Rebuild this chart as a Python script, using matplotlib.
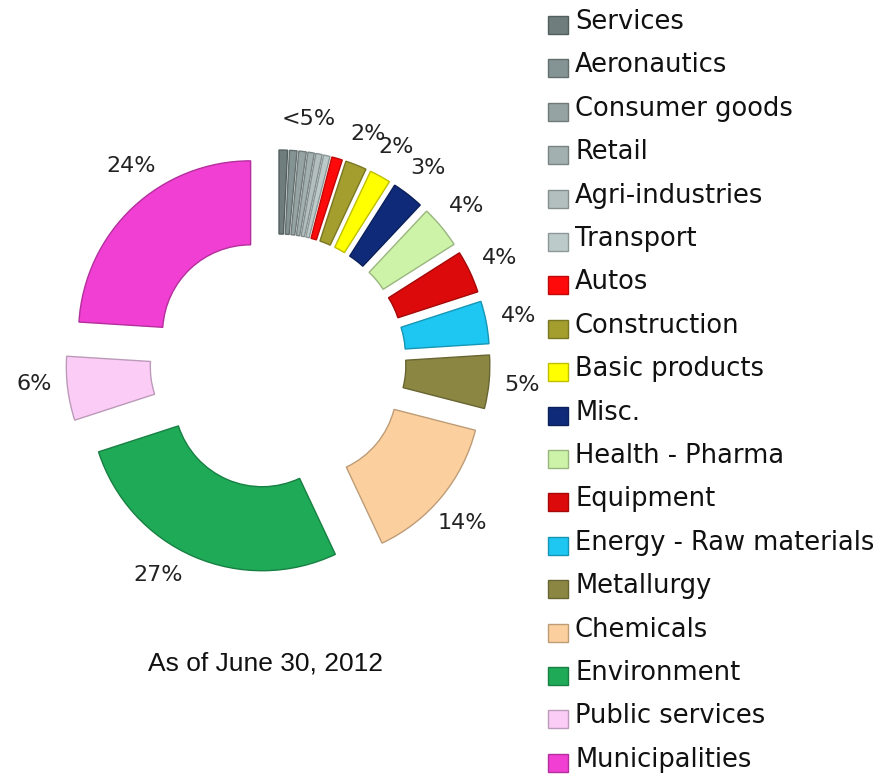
import matplotlib.pyplot as plt
import matplotlib.colors as mcolors
import numpy as np

# Portfolio split by sector (percent of total)
sectors = ["Services", "Aeronautics", "Consumer goods", "Retail", "Agri-industries",
           "Transport", "Autos", "Construction", "Basic products", "Misc.",
           "Health - Pharma", "Equipment", "Energy - Raw materials", "Metallurgy",
           "Chemicals", "Environment", "Public services", "Municipalities"]
shares = [0.8, 0.7, 0.7, 0.6, 0.6, 0.6, 1, 2, 2, 3, 4, 4, 4, 5, 14, 27, 6, 24]
pct_labels = ["", "", "", "", "", "", "", "2%", "2%", "3%", "4%", "4%", "4%", "5%",
              "14%", "27%", "6%", "24%"]
small_group = 6          # first six sectors share one label
small_label = "<5%"
colors = ["#6f7d7d", "#849393", "#95a3a3", "#a3b0b0", "#b3bfbf", "#bccaca",
          "#ff0a0a", "#a39e2e", "#ffff00", "#0f2a78", "#cdf3a9", "#dc0a0a",
          "#1ec6f2", "#8b8743", "#fcd09e", "#1faa58", "#fbcdf6", "#f03fd2"]
note = "As of June 30, 2012"

# small angular nudges (degrees) for a few of the percentage labels
nudge = {14: -1.5, 15: -6, 16: -2, 17: -6.5}

W, H = 877, 774
fig = plt.figure(figsize=(W / 100, H / 100), dpi=100)
ax = fig.add_axes([0, 0, 1, 1])

cx, cy = 278, H - 362
r_out, width, shift = 172, 84, 40

edge = [tuple(c * 0.75 for c in mcolors.to_rgb(col)) for col in colors]
# pie's explode offset is in data units here (radius is in pixels)
wedges, _ = ax.pie(shares, colors=colors, startangle=90, counterclock=False,
                   radius=r_out, center=(cx, cy),
                   explode=[shift] * len(shares),
                   wedgeprops=dict(width=width, linewidth=1.0))
for w, e in zip(wedges, edge):
    w.set_edgecolor(e)

# percentage labels along each slice's middle angle
total = sum(shares)
bounds = np.concatenate([[0], np.cumsum(shares)]) / total
lab_r = 245
for i, txt in enumerate(pct_labels):
    if not txt:
        continue
    mid = 90 - 360 * (bounds[i] + bounds[i + 1]) / 2 + nudge.get(i, 0)
    ax.text(cx + lab_r * np.cos(np.radians(mid)), cy + lab_r * np.sin(np.radians(mid)),
            txt, ha="center", va="center", fontsize=16, color="#222222")
mid = 90 - 360 * bounds[small_group] / 2
ax.text(cx + lab_r * np.cos(np.radians(mid)), cy + lab_r * np.sin(np.radians(mid)),
        small_label, ha="center", va="center", fontsize=16, color="#222222")

# legend drawn as a column of squares and names
y0, step = 22, 43.4
for i, (name, col, e) in enumerate(zip(sectors, colors, edge)):
    y = H - (y0 + i * step)
    ax.add_patch(plt.Rectangle((548, y - 12), 20, 18, facecolor=col,
                               edgecolor=e, linewidth=1.0))
    ax.text(575, y, name, ha="left", va="center", fontsize=18.5, color="#111111")

ax.text(265, H - 663, note, ha="center", va="center", fontsize=19,
        family="Liberation Sans", color="#111111")

ax.set_xlim(0, W)
ax.set_ylim(0, H)
ax.set_aspect("equal")
ax.axis("off")

plt.savefig("out.png", dpi=100, facecolor="white")
